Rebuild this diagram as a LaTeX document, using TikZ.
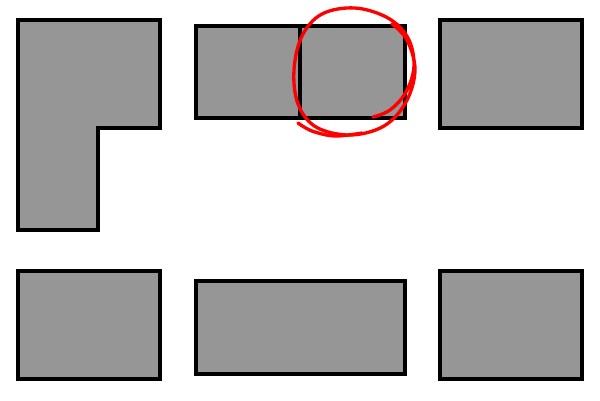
\documentclass[tikz,border=0pt]{standalone}
\usetikzlibrary{positioning}
\definecolor{blockgray}{HTML}{969696}
\tikzstyle{block} = [draw=black, fill=blockgray, line width=2.2pt, line join=miter]
\tikzstyle{scribble} = [draw=red, line width=1.9pt, line cap=round, line join=round]

\begin{document}
\begin{tikzpicture}[x=0.02cm, y=-0.02cm]
    \useasboundingbox (0,0) rectangle (600,400);
    % top row
    \draw [block] (18,20) -- (160,20) -- (160,128) -- (98,128) -- (98,230) -- (18,230) -- cycle;
    \draw [block] (196,26) rectangle (300,118);
    \draw [block] (300,26) rectangle (405,118);
    \draw [block] (440,20) rectangle (582,128);
    % bottom row
    \draw [block] (18,271) rectangle (160,379);
    \draw [block] (196,281) rectangle (405,374);
    \draw [block] (440,271) rectangle (582,379);
    % red mark
    \draw [scribble] plot [smooth, tension=0.6] coordinates {(373,117) (390,110) (406,92) (414,66) (408,38) (388,18) (355,8) (322,14) (302,36) (294,70) (298,104) (316,127) (350,135) (384,126) (406,102) (415,70) (407,40) (392,24)};
    \draw [scribble] plot [smooth, tension=0.6] coordinates {(298,123) (312,131) (335,136) (362,133)};
\end{tikzpicture}
\end{document}
